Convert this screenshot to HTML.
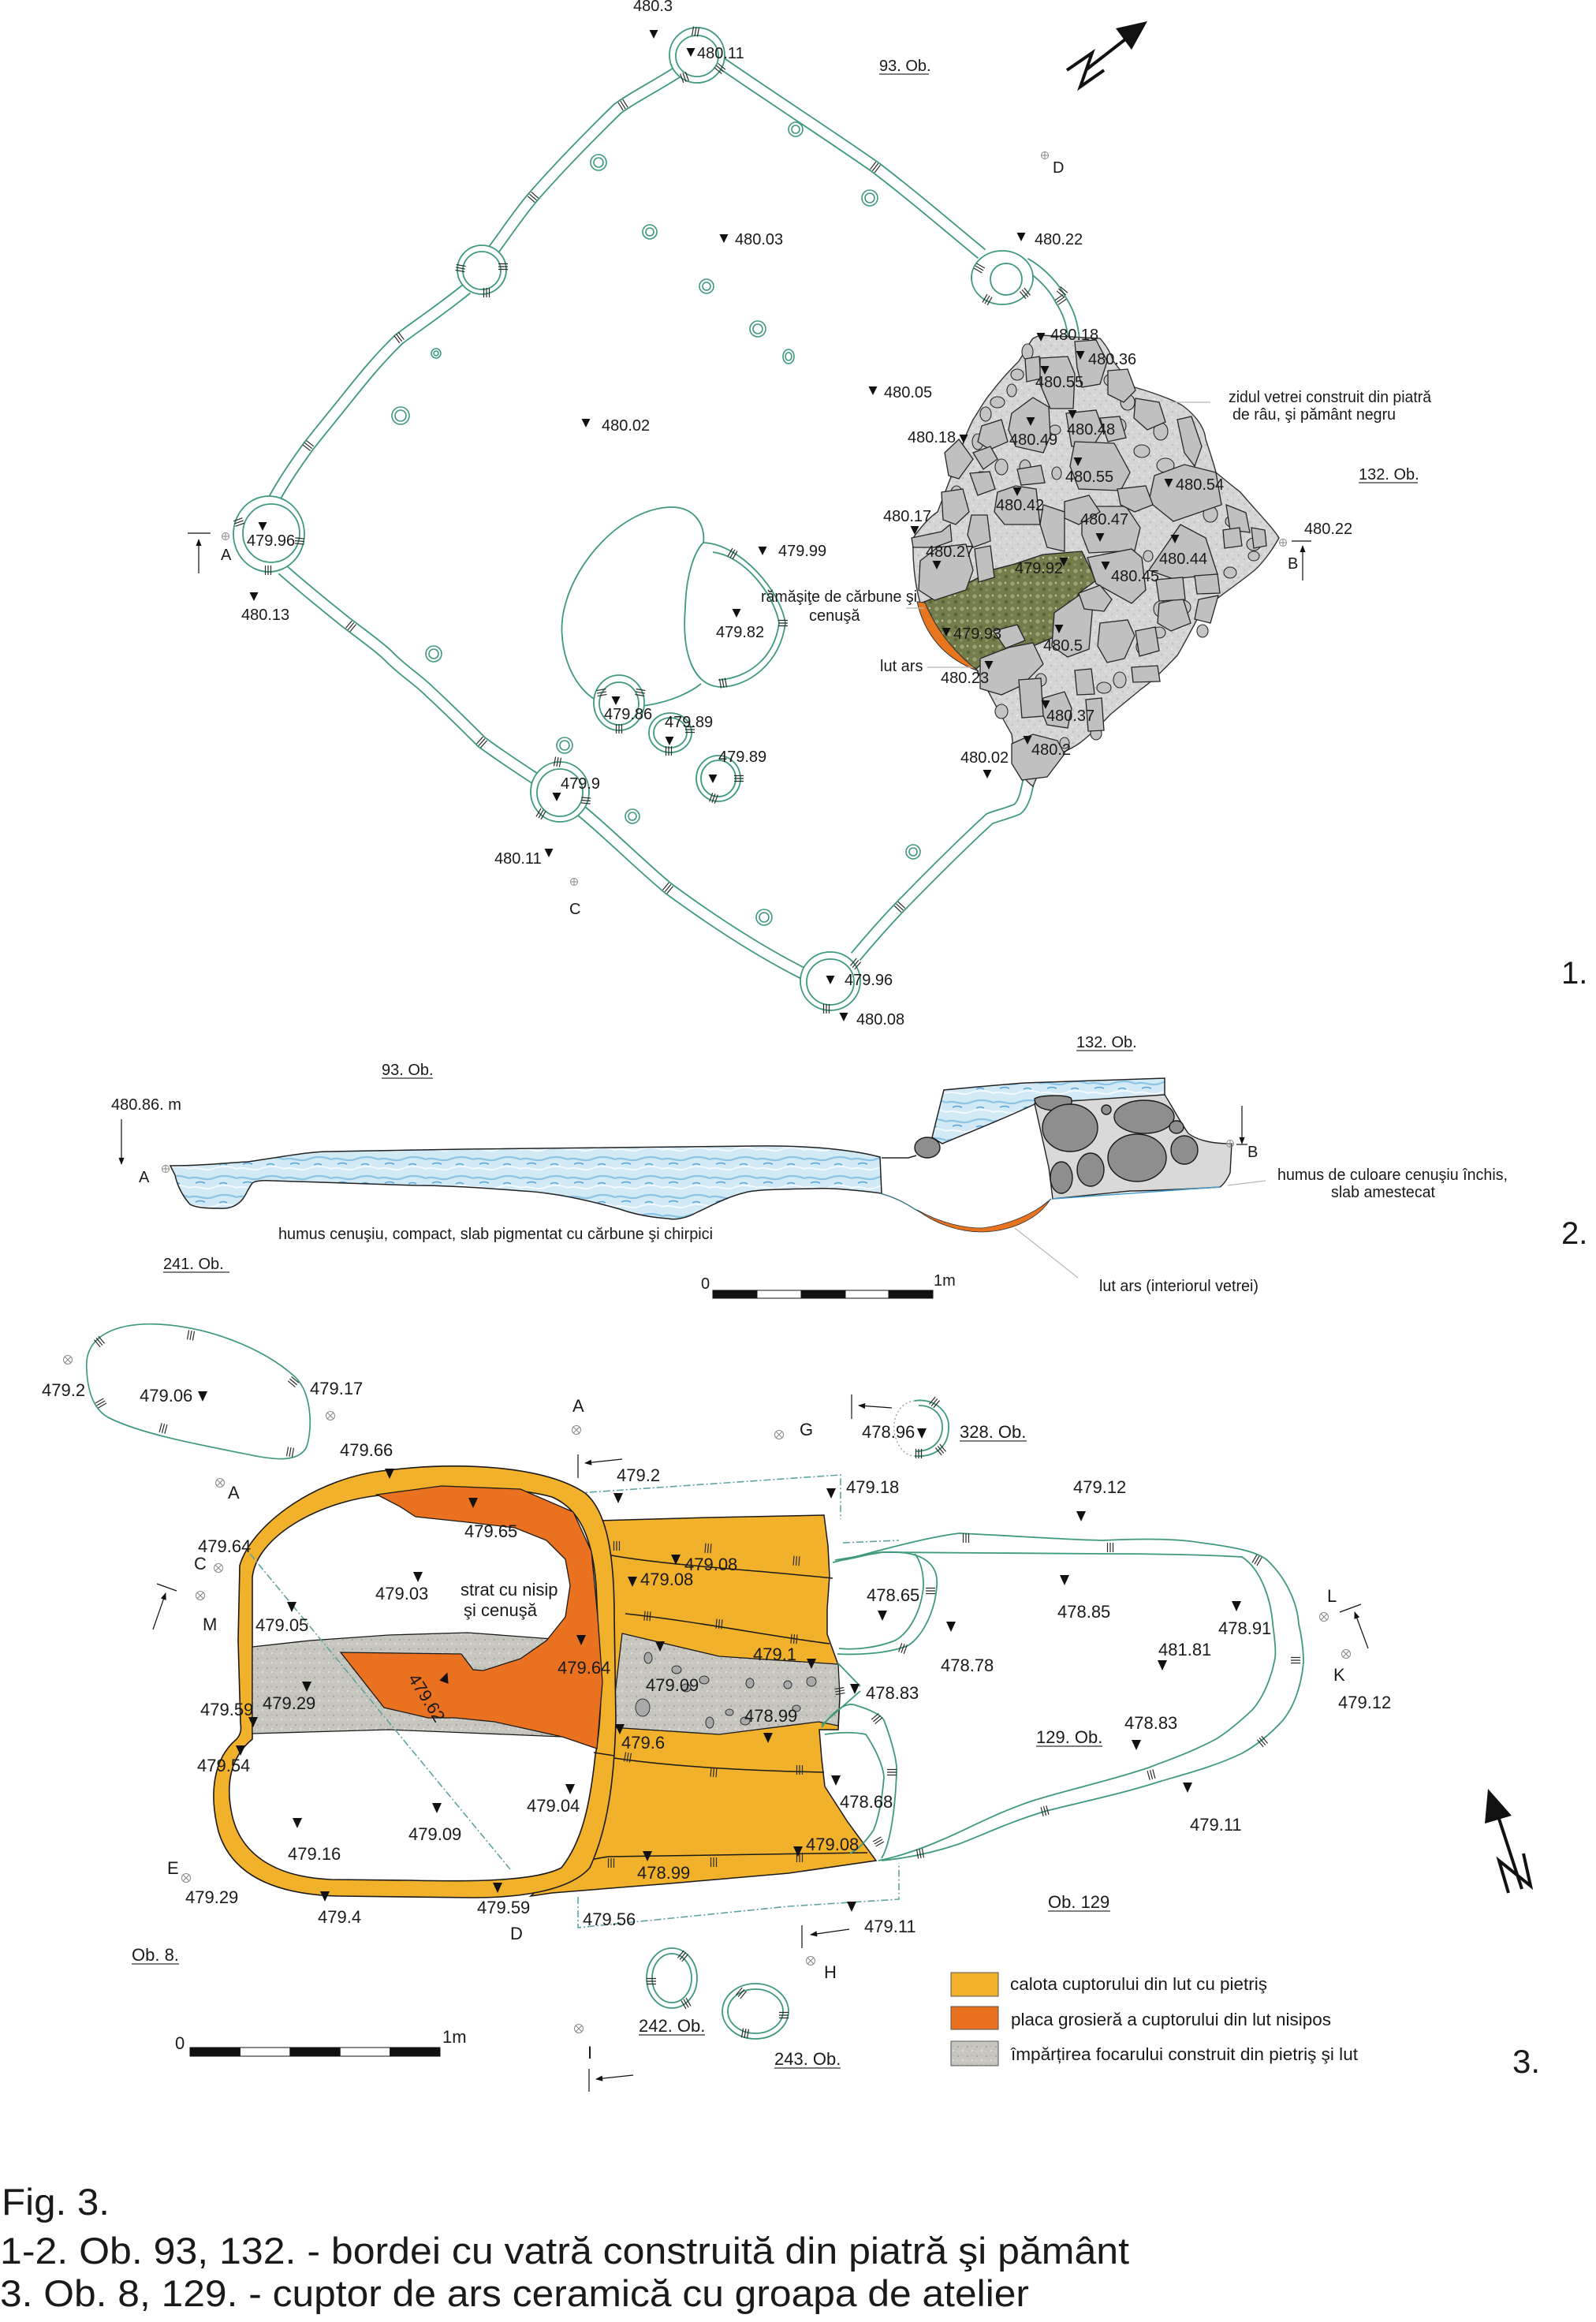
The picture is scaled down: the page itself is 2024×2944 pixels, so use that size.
<!DOCTYPE html>
<html><head><meta charset="utf-8"><title>Fig. 3</title>
<style>
html,body{margin:0;padding:0;background:#fff;}
svg{display:block;}
text{font-family:"Liberation Sans",Arial,sans-serif;fill:#1a1a1a;}
.s1{font-size:20px;}
.s3{font-size:22px;}
.g{fill:none;stroke:#3f9a7a;stroke-width:1.8;}
.ul{stroke:#333;stroke-width:1.2;}
.blk{fill:none;stroke:#1a1a1a;stroke-width:1.5;}
.dd{fill:none;stroke:#5fa3a3;stroke-width:1.6;stroke-dasharray:9 3 2 3;}
.ld{stroke:#b8b8b8;stroke-width:1.2;}
</style></head>
<body>
<svg width="2024" height="2944" viewBox="0 0 2024 2944" xmlns="http://www.w3.org/2000/svg">
<defs>
  <path id="tv" d="M-5.5,-5 L5.5,-5 L0,6 Z" fill="#111"/>
  <path id="tw" d="M-6,-6 L6,-6 L0,7 Z" fill="#111"/>
  <g id="op"><circle r="4.5" fill="none" stroke="#888" stroke-width="1"/><path d="M-4.5,0H4.5M0,-4.5V4.5" stroke="#888" stroke-width="1"/></g>
  <g id="ox"><circle r="5.5" fill="none" stroke="#888" stroke-width="1"/><path d="M-3.9,-3.9L3.9,3.9M-3.9,3.9L3.9,-3.9" stroke="#888" stroke-width="1"/></g>
  <g id="tk"><path d="M-3.5,-6V6M0,-6V6M3.5,-6V6" stroke="#2a2a2a" stroke-width="1.2" fill="none"/></g>
  <marker id="ah" viewBox="0 0 10 10" refX="9" refY="5" markerWidth="11" markerHeight="9" orient="auto" markerUnits="userSpaceOnUse"><path d="M0,1 L10,5 L0,9 Z" fill="#111"/></marker>
  <pattern id="grav" width="14" height="14" patternUnits="userSpaceOnUse">
    <rect width="14" height="14" fill="#d6d6d6"/>
    <circle cx="3" cy="4" r="1.4" fill="#c2c2c2"/><circle cx="10" cy="9" r="1.2" fill="#c4c4c4"/>
    <circle cx="8" cy="2" r="1" fill="#ececec"/><circle cx="2" cy="11" r="1.1" fill="#eaeaea"/>
  </pattern>
  <pattern id="olive" width="16" height="16" patternUnits="userSpaceOnUse">
    <rect width="16" height="16" fill="#737d4b"/>
    <circle cx="4" cy="4" r="2.6" fill="#9da272"/><circle cx="12" cy="11" r="2.2" fill="#5a6338"/>
    <circle cx="11" cy="3" r="1.2" fill="#c6c8a6"/><circle cx="3" cy="12" r="1.6" fill="#8d9463"/>
  </pattern>
  <pattern id="water" width="60" height="24" patternUnits="userSpaceOnUse">
    <rect width="60" height="24" fill="#d2e9f6"/>
    <path d="M0,6 C10,2 20,10 30,6 S50,2 60,6" stroke="#8cc5e7" stroke-width="2.2" fill="none"/>
    <path d="M0,18 C10,14 20,22 30,18 S50,14 60,18" stroke="#f4fafd" stroke-width="2" fill="none"/>
    <path d="M8,12 q6,-3 12,0 M38,13 q5,-3 10,0" stroke="#5aa7d8" stroke-width="1.6" fill="none"/>
  </pattern>
  <pattern id="ogrey" width="12" height="12" patternUnits="userSpaceOnUse">
    <rect width="12" height="12" fill="#c6c6be"/>
    <circle cx="3" cy="3" r="1.2" fill="#a9a9a1"/><circle cx="9" cy="8" r="1.2" fill="#e2dfd6"/>
    <circle cx="8" cy="2" r="0.9" fill="#b3b3ab"/><circle cx="2" cy="9" r="0.9" fill="#dedbd2"/>
  </pattern>
</defs>

<!-- ================= SECTION 1 ================= -->
<g fill="none" stroke-linecap="butt">
  <g stroke="#3f9a7a" stroke-width="16">
    <path d="M858,92 C830,110 800,125 783,138 C740,180 700,222 674,252 C655,275 640,298 625,318"/>
    <path d="M592,366 C560,392 530,412 506,430 C480,455 460,480 440,505 C420,530 405,548 391,566 C375,588 360,610 348,632"/>
    <path d="M358,722 C390,750 415,770 440,790 C460,805 478,818 491,830 C510,850 528,860 545,877 C570,900 590,920 611,941 C640,962 660,975 680,988"/>
    <path d="M737,1028 C770,1055 810,1095 847,1126 C900,1165 960,1205 1022,1236"/>
    <path d="M915,80 C980,125 1050,170 1110,212 C1160,250 1200,285 1245,322"/>
    <path d="M1300,334 C1320,345 1338,365 1345,380 C1355,395 1360,410 1362,432"/>
    <path d="M1306,980 C1302,1005 1298,1020 1290,1026 C1275,1032 1262,1035 1255,1038 C1220,1070 1180,1110 1141,1150 C1120,1172 1100,1195 1085,1213"/>
  </g>
  <g stroke="#ffffff" stroke-width="12.4">
    <path d="M858,92 C830,110 800,125 783,138 C740,180 700,222 674,252 C655,275 640,298 625,318"/>
    <path d="M592,366 C560,392 530,412 506,430 C480,455 460,480 440,505 C420,530 405,548 391,566 C375,588 360,610 348,632"/>
    <path d="M358,722 C390,750 415,770 440,790 C460,805 478,818 491,830 C510,850 528,860 545,877 C570,900 590,920 611,941 C640,962 660,975 680,988"/>
    <path d="M737,1028 C770,1055 810,1095 847,1126 C900,1165 960,1205 1022,1236"/>
    <path d="M915,80 C980,125 1050,170 1110,212 C1160,250 1200,285 1245,322"/>
    <path d="M1300,334 C1320,345 1338,365 1345,380 C1355,395 1360,410 1362,432"/>
    <path d="M1306,980 C1302,1005 1298,1020 1290,1026 C1275,1032 1262,1035 1255,1038 C1220,1070 1180,1110 1141,1150 C1120,1172 1100,1195 1085,1213"/>
  </g>
</g>

<path class="g" d="M889,867 C860,890 800,905 760,890 C720,870 705,810 716,770 C730,710 790,645 850,643 C880,642 895,665 892,688"/>
<path class="g" d="M892,688 C940,690 990,750 996,790 C990,840 950,870 915,871 C875,870 865,820 869,771 C870,730 880,700 892,688 Z" fill="#fff"/>
<path class="g" d="M904,700 C945,705 982,755 988,790 C982,835 948,860 911,862"/>

<g fill="#fff" stroke="#3f9a7a" stroke-width="1.8">
  <ellipse cx="884" cy="70" rx="35" ry="35"/><ellipse cx="884" cy="71" rx="27" ry="26" fill="none"/>
  <ellipse cx="611" cy="342" rx="31" ry="31"/><ellipse cx="611" cy="343" rx="24" ry="24" fill="none"/>
  <ellipse cx="341" cy="677" rx="45" ry="48"/><ellipse cx="344" cy="676" rx="36" ry="37" fill="none"/>
  <ellipse cx="710" cy="1004" rx="37" ry="38"/><ellipse cx="710" cy="1005" rx="29" ry="30" fill="none"/>
  <ellipse cx="1053" cy="1244" rx="38" ry="37"/><ellipse cx="1053" cy="1245" rx="30" ry="29" fill="none"/>
  <ellipse cx="1271" cy="352" rx="39" ry="34"/><ellipse cx="1276" cy="354" rx="20" ry="20" fill="none"/>
  <ellipse cx="785" cy="891" rx="32" ry="35"/><ellipse cx="785" cy="892" rx="25" ry="27" fill="none"/>
  <ellipse cx="850" cy="929" rx="27" ry="25"/><ellipse cx="850" cy="929" rx="21" ry="19" fill="none"/>
  <ellipse cx="911" cy="987" rx="28" ry="29"/><ellipse cx="911" cy="987" rx="22" ry="23" fill="none"/>
</g>
<g fill="none" stroke="#3f9a7a" stroke-width="1.6">
  <circle cx="1009" cy="164" r="9"/><circle cx="1009" cy="164" r="5"/>
  <circle cx="759" cy="206" r="10"/><circle cx="759" cy="206" r="6"/>
  <circle cx="1103" cy="251" r="10"/><circle cx="1103" cy="251" r="6"/>
  <circle cx="824" cy="294" r="9"/><circle cx="824" cy="294" r="5"/>
  <circle cx="896" cy="363" r="9"/><circle cx="896" cy="363" r="5"/>
  <circle cx="961" cy="417" r="10"/><circle cx="961" cy="417" r="6"/>
  <ellipse cx="1000" cy="452" rx="7" ry="9"/><ellipse cx="1000" cy="452" rx="4" ry="5"/>
  <circle cx="553" cy="448" r="6"/><circle cx="553" cy="448" r="3"/>
  <circle cx="508" cy="527" r="11"/><circle cx="508" cy="527" r="7"/>
  <circle cx="550" cy="829" r="10"/><circle cx="550" cy="829" r="6"/>
  <circle cx="716" cy="945" r="10"/><circle cx="716" cy="945" r="6"/>
  <circle cx="802" cy="1035" r="9"/><circle cx="802" cy="1035" r="5"/>
  <circle cx="1158" cy="1080" r="9"/><circle cx="1158" cy="1080" r="5"/>
  <circle cx="969" cy="1163" r="10"/><circle cx="969" cy="1163" r="6"/>
</g>
<g>
  <use href="#tk" transform="translate(790,133) rotate(148)"/>
  <use href="#tk" transform="translate(676,250) rotate(131)"/>
  <use href="#tk" transform="translate(506,428) rotate(143)"/>
  <use href="#tk" transform="translate(391,565) rotate(128)"/>
  <use href="#tk" transform="translate(445,794) rotate(40)"/>
  <use href="#tk" transform="translate(611,941) rotate(42)"/>
  <use href="#tk" transform="translate(847,1126) rotate(40)"/>
  <use href="#tk" transform="translate(1110,212) rotate(37)"/>
  <use href="#tk" transform="translate(1141,1150) rotate(133)"/>
  <use href="#tk" transform="translate(1345,380) rotate(55)"/>
  <use href="#tk" transform="translate(303,662) rotate(70)"/>
  <use href="#tk" transform="translate(380,686) rotate(95)"/>
  <use href="#tk" transform="translate(340,723) rotate(0)"/>
  <use href="#tk" transform="translate(882,40) rotate(10)"/>
  <use href="#tk" transform="translate(913,87) rotate(130)"/>
  <use href="#tk" transform="translate(868,98) rotate(-20)"/>
  <use href="#tk" transform="translate(1085,1222) rotate(40)"/>
  <use href="#tk" transform="translate(1048,1279) rotate(0)"/>
  <use href="#tk" transform="translate(707,966) rotate(10)"/>
  <use href="#tk" transform="translate(743,1015) rotate(95)"/>
  <use href="#tk" transform="translate(686,1032) rotate(30)"/>
  <use href="#tk" transform="translate(584,340) rotate(100)"/>
  <use href="#tk" transform="translate(638,338) rotate(90)"/>
  <use href="#tk" transform="translate(617,371) rotate(0)"/>
  <use href="#tk" transform="translate(1242,340) rotate(120)"/>
  <use href="#tk" transform="translate(1252,380) rotate(30)"/>
  <use href="#tk" transform="translate(1300,372) rotate(140)"/>
  <use href="#tk" transform="translate(1347,370) rotate(130)"/>
  <use href="#tk" transform="translate(763,878) rotate(80)"/>
  <use href="#tk" transform="translate(812,878) rotate(100)"/>
  <use href="#tk" transform="translate(785,924) rotate(0)"/>
  <use href="#tk" transform="translate(875,925) rotate(90)"/>
  <use href="#tk" transform="translate(848,952) rotate(0)"/>
  <use href="#tk" transform="translate(905,1012) rotate(20)"/>
  <use href="#tk" transform="translate(937,987) rotate(90)"/>
  <use href="#tk" transform="translate(929,702) rotate(30)"/>
  <use href="#tk" transform="translate(993,790) rotate(90)"/>
  <use href="#tk" transform="translate(917,866) rotate(-10)"/>
</g>

<!-- hearth (132. Ob.) -->
<path d="M1319,425 L1395,429 C1405,440 1410,452 1412,458 C1425,475 1435,488 1439,491 C1470,500 1495,510 1502,516 C1520,530 1528,545 1529,557 C1535,575 1540,590 1542,599 C1555,610 1568,620 1573,624 C1595,650 1615,670 1622,682 C1612,700 1600,715 1591,723 C1570,740 1555,750 1546,757 C1535,765 1525,775 1520,782 C1510,800 1500,820 1493,831 C1475,850 1460,865 1448,873 C1430,888 1415,900 1408,906 C1390,925 1375,938 1368,943 C1350,955 1330,960 1323,964 C1318,978 1313,990 1310,997 C1300,990 1290,975 1287,964 C1285,950 1284,940 1283,931 C1265,900 1250,870 1238,848 C1210,820 1180,790 1167,765 C1160,740 1157,710 1158,682 C1170,665 1180,655 1189,649 C1200,620 1212,590 1220,566 C1225,550 1230,540 1234,532 C1242,520 1250,505 1256,499 C1270,480 1285,465 1292,458 C1300,445 1305,435 1310,429 Z" fill="url(#grav)" stroke="#333" stroke-width="1.4"/>
<g fill="#c4c4c4" stroke="#2a2a2a" stroke-width="1.1">
  <ellipse cx="1303" cy="446" rx="7" ry="10"/><ellipse cx="1290" cy="475" rx="8" ry="7"/><ellipse cx="1283" cy="495" rx="6" ry="8"/>
  <ellipse cx="1265" cy="510" rx="9" ry="7"/><ellipse cx="1250" cy="525" rx="7" ry="9"/><ellipse cx="1262" cy="545" rx="10" ry="8"/>
  <ellipse cx="1240" cy="560" rx="7" ry="10"/><ellipse cx="1245" cy="605" rx="9" ry="7"/><ellipse cx="1270" cy="592" rx="8" ry="10"/>
  <ellipse cx="1300" cy="592" rx="7" ry="9"/><ellipse cx="1340" cy="600" rx="6" ry="8"/><ellipse cx="1338" cy="545" rx="7" ry="6"/>
  <ellipse cx="1410" cy="482" rx="10" ry="8"/><ellipse cx="1430" cy="510" rx="9" ry="10"/><ellipse cx="1452" cy="522" rx="11" ry="9"/>
  <ellipse cx="1472" cy="547" rx="9" ry="11"/><ellipse cx="1420" cy="540" rx="8" ry="9"/><ellipse cx="1448" cy="572" rx="10" ry="8"/>
  <ellipse cx="1478" cy="590" rx="11" ry="9"/><ellipse cx="1512" cy="620" rx="8" ry="7"/><ellipse cx="1535" cy="652" rx="9" ry="10"/>
  <ellipse cx="1562" cy="661" rx="8" ry="7"/><ellipse cx="1590" cy="690" rx="9" ry="8"/><ellipse cx="1560" cy="726" rx="8" ry="7"/>
  <ellipse cx="1500" cy="770" rx="10" ry="9"/><ellipse cx="1472" cy="772" rx="9" ry="10"/><ellipse cx="1470" cy="802" rx="8" ry="7"/>
  <ellipse cx="1448" cy="820" rx="7" ry="9"/><ellipse cx="1420" cy="862" rx="8" ry="10"/><ellipse cx="1400" cy="872" rx="9" ry="7"/>
  <ellipse cx="1390" cy="930" rx="7" ry="8"/><ellipse cx="1350" cy="942" rx="6" ry="7"/><ellipse cx="1270" cy="902" rx="8" ry="9"/>
  <ellipse cx="1213" cy="625" rx="7" ry="9"/><ellipse cx="1456" cy="705" rx="6" ry="7"/><ellipse cx="1320" cy="862" rx="7" ry="8"/>
  <ellipse cx="1512" cy="705" rx="7" ry="8"/><ellipse cx="1590" cy="705" rx="7" ry="6"/><ellipse cx="1525" cy="800" rx="7" ry="8"/>
</g>
<path d="M1167,765 L1200,752 L1234,736 L1260,722 L1287,715 L1323,703 L1372,699 L1390,736 L1368,752 L1355,780 L1341,806 L1310,819 L1280,825 L1247,840 L1238,848 L1210,830 L1189,802 Z" fill="url(#olive)" stroke="#222" stroke-width="1.3"/>
<path d="M1163,763 Q1178,828 1241,851 Q1194,815 1173,764 Z" fill="#e8761f" stroke="#333" stroke-width="1"/>
<g fill="#c0c0c0" stroke="#262626" stroke-width="1.3">
  <polygon points="1405,470 1430,468 1440,495 1425,510 1405,500"/>
  <polygon points="1440,505 1470,510 1478,535 1455,545 1438,530"/>
  <polygon points="1395,530 1420,528 1428,555 1405,560"/>
  <polygon points="1245,540 1270,532 1278,560 1255,570 1240,560"/>
  <polygon points="1505,615 1535,610 1545,640 1520,650 1505,638"/>
  <polygon points="1555,640 1580,650 1585,675 1560,672"/>
  <polygon points="1470,765 1500,758 1510,790 1485,800 1468,790"/>
  <polygon points="1440,800 1465,795 1470,825 1445,832"/>
  <polygon points="1230,600 1255,598 1262,620 1240,628"/>
  <polygon points="1290,595 1320,590 1325,612 1295,615"/>
  <polygon points="1520,760 1545,755 1535,790 1515,785"/>
  <polygon points="1300,455 1318,452 1320,480 1302,484"/>
  <polygon points="1480,690 1500,688 1498,712 1478,714"/>
  <polygon points="1260,800 1290,792 1300,812 1275,822"/>
  <polygon points="1363,433 1390,431 1404,458 1395,487 1372,491 1366,466"/>
  <polygon points="1319,454 1354,452 1363,474 1361,518 1332,518 1319,487"/>
  <polygon points="1283,524 1310,504 1330,516 1332,553 1323,574 1288,566 1279,545"/>
  <polygon points="1352,524 1390,520 1399,545 1386,566 1359,566"/>
  <polygon points="1363,560 1413,562 1433,599 1421,622 1368,620 1357,591"/>
  <polygon points="1464,603 1502,589 1542,599 1549,640 1488,661 1457,636"/>
  <polygon points="1265,624 1288,616 1314,620 1319,665 1274,665 1261,649"/>
  <polygon points="1372,642 1428,642 1446,669 1439,698 1381,701 1372,678"/>
  <polygon points="1379,707 1435,696 1448,707 1453,748 1435,765 1390,740"/>
  <polygon points="1457,723 1497,665 1529,682 1544,728 1488,734"/>
  <polygon points="1167,711 1189,694 1225,690 1234,723 1225,748 1185,761 1165,748"/>
  <polygon points="1156,682 1194,674 1205,665 1207,686 1185,694 1158,694"/>
  <polygon points="1337,777 1368,755 1386,765 1381,823 1354,833 1334,819"/>
  <polygon points="1243,835 1279,821 1310,815 1323,842 1296,869 1270,881 1243,873"/>
  <polygon points="1323,885 1350,877 1359,898 1354,923 1328,919 1321,902"/>
  <polygon points="1283,943 1310,931 1341,939 1350,956 1328,985 1296,989 1283,968"/>
  <polygon points="1395,790 1430,786 1439,806 1426,835 1404,840 1392,819"/>
  <polygon points="1194,624 1221,620 1229,649 1212,665 1196,659"/>
  <polygon points="1232,653 1252,653 1256,686 1234,694 1227,678"/>
  <polygon points="1236,696 1256,692 1261,732 1241,738"/>
  <polygon points="1350,636 1381,628 1395,649 1368,665 1350,657"/>
  <polygon points="1417,620 1453,616 1462,640 1439,649 1421,640"/>
  <polygon points="1493,532 1511,528 1524,566 1515,591 1502,574"/>
  <polygon points="1323,640 1350,649 1350,699 1328,694 1319,665"/>
  <polygon points="1198,574 1216,557 1234,582 1216,607 1203,603"/>
  <polygon points="1234,574 1256,566 1265,582 1247,595"/>
  <polygon points="1587,669 1604,672 1606,692 1590,695"/>
  <polygon points="1551,672 1572,669 1575,692 1553,695"/>
  <polygon points="1466,735 1500,732 1503,760 1470,762"/>
  <polygon points="1515,730 1544,728 1547,752 1518,753"/>
  <polygon points="1363,850 1384,848 1388,880 1366,881"/>
  <polygon points="1435,846 1468,844 1471,864 1437,865"/>
  <polygon points="1377,887 1397,885 1400,926 1380,927"/>
  <polygon points="1292,862 1320,860 1323,908 1296,910"/>
  <polygon points="1368,752 1395,742 1410,760 1400,775 1375,772"/>
</g>
<line x1="1176" y1="846" x2="1234" y2="846" class="ld"/>
<line x1="1149" y1="771" x2="1172" y2="771" class="ld"/>
<line x1="1484" y1="510" x2="1535" y2="510" class="ld"/>

<g fill="#111" stroke="#111">
  <polygon points="1455,27 1415,36 1435,63" stroke="none"/>
  <line x1="1432" y1="46" x2="1378" y2="88" stroke-width="4"/>
  <polyline points="1353,89 1385,67 1370,110 1400,89" fill="none" stroke-width="4"/>
</g>

<line x1="238" y1="676" x2="267" y2="676" stroke="#111" stroke-width="1.2"/>
<line x1="252" y1="727" x2="252" y2="684" stroke="#111" stroke-width="1.2" marker-end="url(#ah)"/>
<line x1="1638" y1="686" x2="1663" y2="686" stroke="#111" stroke-width="1.2"/>
<line x1="1652" y1="736" x2="1652" y2="692" stroke="#111" stroke-width="1.2" marker-end="url(#ah)"/>
<use href="#op" x="286" y="680"/><use href="#op" x="1627" y="688"/><use href="#op" x="1325" y="197"/><use href="#op" x="728" y="1118"/>

<g>
<use href="#tv" x="829" y="43"/><use href="#tv" x="876" y="66"/><use href="#tv" x="1295" y="300"/>
<use href="#tv" x="918" y="302"/><use href="#tv" x="1107" y="495"/><use href="#tv" x="743" y="536"/>
<use href="#tv" x="1222" y="556"/><use href="#tv" x="1160" y="672"/><use href="#tv" x="333" y="667"/>
<use href="#tv" x="322" y="756"/><use href="#tv" x="967" y="698"/><use href="#tv" x="934" y="777"/>
<use href="#tv" x="1254" y="843"/><use href="#tv" x="781" y="888"/><use href="#tv" x="849" y="939"/>
<use href="#tv" x="904" y="987"/><use href="#tv" x="706" y="1010"/><use href="#tv" x="696" y="1081"/>
<use href="#tv" x="1053" y="1242"/><use href="#tv" x="1070" y="1289"/><use href="#tv" x="1252" y="981"/>
<use href="#tv" x="1320" y="427"/><use href="#tv" x="1370" y="450"/><use href="#tv" x="1325" y="469"/>
<use href="#tv" x="1307" y="534"/><use href="#tv" x="1360" y="525"/><use href="#tv" x="1367" y="585"/>
<use href="#tv" x="1482" y="612"/><use href="#tv" x="1290" y="623"/><use href="#tv" x="1395" y="681"/>
<use href="#tv" x="1490" y="683"/><use href="#tv" x="1402" y="717"/><use href="#tv" x="1188" y="716"/>
<use href="#tv" x="1349" y="712"/><use href="#tv" x="1200" y="801"/><use href="#tv" x="1343" y="797"/>
<use href="#tv" x="1326" y="893"/><use href="#tv" x="1303" y="938"/>
</g>
<g class="s1">
<text x="803" y="14">480.3</text>
<text x="884" y="74">480.11</text>
<text x="1115" y="90">93. Ob.</text><line class="ul" x1="1115" y1="94" x2="1178" y2="94"/>
<text x="1335" y="219">D</text>
<text x="1312" y="310">480.22</text>
<text x="932" y="310">480.03</text>
<text x="1121" y="504">480.05</text>
<text x="763" y="546">480.02</text>
<text x="1151" y="561">480.18</text>
<text x="1120" y="661">480.17</text>
<text x="313" y="692">479.96</text>
<text x="280" y="710">A</text>
<text x="306" y="786">480.13</text>
<text x="987" y="705">479.99</text>
<text x="908" y="808">479.82</text>
<text x="965" y="763" textLength="198" lengthAdjust="spacingAndGlyphs">rămăşiţe de cărbune şi</text>
<text x="1026" y="787">cenuşă</text>
<text x="1116" y="851">lut ars</text>
<text x="1193" y="866">480.23</text>
<text x="766" y="912">479.86</text>
<text x="843" y="922">479.89</text>
<text x="911" y="966">479.89</text>
<text x="711" y="1000">479.9</text>
<text x="627" y="1095">480.11</text>
<text x="722" y="1159">C</text>
<text x="1071" y="1249">479.96</text>
<text x="1086" y="1299">480.08</text>
<text x="1218" y="967">480.02</text>
<text x="1332" y="431">480.18</text>
<text x="1380" y="462">480.36</text>
<text x="1313" y="491">480.55</text>
<text x="1280" y="564">480.49</text>
<text x="1353" y="551">480.48</text>
<text x="1351" y="611">480.55</text>
<text x="1491" y="621">480.54</text>
<text x="1263" y="647">480.42</text>
<text x="1370" y="665">480.47</text>
<text x="1470" y="715">480.44</text>
<text x="1409" y="737">480.45</text>
<text x="1174" y="706">480.27</text>
<text x="1287" y="727">479.92</text>
<text x="1209" y="810">479.93</text>
<text x="1323" y="825">480.5</text>
<text x="1327" y="914">480.37</text>
<text x="1308" y="957">480.2</text>
<text x="1654" y="677">480.22</text>
<text x="1633" y="721">B</text>
<text x="1558" y="510" textLength="257" lengthAdjust="spacingAndGlyphs">zidul vetrei construit din piatră</text>
<text x="1563" y="532" textLength="207" lengthAdjust="spacingAndGlyphs">de râu, şi pământ negru</text>
<text x="1723" y="608">132. Ob.</text><line class="ul" x1="1723" y1="612" x2="1798" y2="612"/>
</g>
<text x="1980" y="1247" style="font-size:40px">1.</text>

<!-- ================= SECTION 2 ================= -->
<path d="M216,1478 C260,1478 290,1474 314,1473 C350,1468 390,1460 418,1460 L590,1457 L957,1453 C1040,1452 1090,1460 1116,1467 L1118,1513 C1080,1508 1050,1506 1031,1507 C990,1508 960,1508 945,1512 C920,1518 900,1530 884,1537 C870,1545 855,1547 847,1545 C820,1543 800,1538 786,1533 C740,1520 700,1512 663,1510 C600,1505 560,1503 529,1503 L345,1497 C330,1496 322,1498 320,1500 C314,1508 312,1515 308,1520 C300,1530 290,1533 278,1532 C260,1532 248,1531 241,1527 C230,1515 224,1500 222,1490 Z" fill="url(#water)" stroke="#222" stroke-width="1.5"/>
<polyline points="1118,1468 1152,1468 1162,1465" fill="none" stroke="#222" stroke-width="1.5"/>
<path d="M1182,1442 L1197,1382 C1240,1378 1270,1375 1300,1373 L1477,1367 L1477,1390 C1420,1395 1360,1398 1312,1400 C1270,1420 1230,1435 1195,1450 Z" fill="url(#water)" stroke="#222" stroke-width="1.5"/>
<path d="M1312,1399 L1477,1388 C1485,1400 1495,1420 1507,1437 C1520,1447 1540,1450 1562,1450 L1560,1487 C1555,1498 1550,1503 1547,1505 C1500,1508 1450,1510 1433,1510 L1335,1520 L1330,1480 Z" fill="#d9d9d9" stroke="#222" stroke-width="1.4"/>
<line x1="1335" y1="1520" x2="1547" y2="1505" stroke="#4a9bd0" stroke-width="1.5"/>
<g fill="#8e8e8e" stroke="#1a1a1a" stroke-width="1.4">
  <ellipse cx="1176" cy="1455" rx="16" ry="13"/>
  <path d="M1312,1393 C1320,1388 1350,1388 1358,1392 C1362,1400 1355,1407 1340,1408 C1325,1408 1312,1404 1312,1393 Z"/>
  <ellipse cx="1357" cy="1430" rx="35" ry="30"/>
  <ellipse cx="1451" cy="1416" rx="38" ry="21"/>
  <circle cx="1403" cy="1407" r="6"/>
  <ellipse cx="1492" cy="1429" rx="9" ry="8"/>
  <ellipse cx="1442" cy="1468" rx="37" ry="30"/>
  <ellipse cx="1502" cy="1458" rx="17" ry="18"/>
  <ellipse cx="1383" cy="1483" rx="17" ry="21"/>
  <ellipse cx="1346" cy="1493" rx="14" ry="20"/>
</g>
<path d="M1116,1513 C1135,1518 1148,1525 1160,1533 C1190,1550 1220,1558 1245,1559 C1280,1556 1310,1540 1333,1520" fill="none" stroke="#2f6f80" stroke-width="1.3"/>
<path d="M1163,1534 C1195,1552 1225,1557 1245,1557 C1280,1553 1312,1538 1331,1522 C1320,1540 1290,1561 1245,1562 C1215,1562 1185,1551 1163,1534 Z" fill="#e8731e" stroke="#333" stroke-width="0.8"/>
<line x1="1287" y1="1557" x2="1367" y2="1620" class="ld"/>
<line x1="1557" y1="1503" x2="1605" y2="1497" class="ld"/>
<use href="#op" x="210" y="1482"/><use href="#op" x="1560" y="1450"/>
<line x1="154" y1="1419" x2="154" y2="1476" stroke="#111" stroke-width="1.2" marker-end="url(#ah)"/>
<line x1="1575" y1="1402" x2="1575" y2="1450" stroke="#111" stroke-width="1.2" marker-end="url(#ah)"/>
<line x1="1568" y1="1451" x2="1582" y2="1451" stroke="#111" stroke-width="1.2"/>
<g stroke="#111" stroke-width="1">
  <rect x="904" y="1636" width="279" height="10" fill="#fff"/>
  <rect x="904" y="1636" width="56" height="10" fill="#111"/>
  <rect x="1016" y="1636" width="56" height="10" fill="#111"/>
  <rect x="1127" y="1636" width="56" height="10" fill="#111"/>
</g>
<g class="s1">
<text x="1365" y="1328">132. Ob.</text><line class="ul" x1="1365" y1="1332" x2="1437" y2="1332"/>
<text x="484" y="1363">93. Ob.</text><line class="ul" x1="484" y1="1367" x2="549" y2="1367"/>
<text x="141" y="1407">480.86. m</text>
<text x="176" y="1499">A</text>
<text x="353" y="1571" textLength="551" lengthAdjust="spacingAndGlyphs">humus cenuşiu, compact, slab pigmentat cu cărbune şi chirpici</text>
<text x="207" y="1609">241. Ob.</text><line class="ul" x1="207" y1="1613" x2="291" y2="1613"/>
<text x="1620" y="1496" textLength="292" lengthAdjust="spacingAndGlyphs">humus de culoare cenuşiu închis,</text>
<text x="1688" y="1518" textLength="132" lengthAdjust="spacingAndGlyphs">slab amestecat</text>
<text x="1394" y="1637" textLength="202" lengthAdjust="spacingAndGlyphs">lut ars (interiorul vetrei)</text>
<text x="1582" y="1467">B</text>
<text x="889" y="1634">0</text>
<text x="1184" y="1630">1m</text>
</g>
<text x="1980" y="1577" style="font-size:40px">2.</text>

<!-- ================= SECTION 3 ================= -->
<path d="M113,1735 C110,1695 150,1680 200,1682 C260,1685 330,1710 372,1748 C395,1770 392,1820 385,1835 C375,1850 350,1848 320,1842 C250,1828 180,1815 140,1795 C120,1785 114,1760 113,1735 Z" fill="none" stroke="#3f9a7a" stroke-width="8"/>
<path d="M113,1735 C110,1695 150,1680 200,1682 C260,1685 330,1710 372,1748 C395,1770 392,1820 385,1835 C375,1850 350,1848 320,1842 C250,1828 180,1815 140,1795 C120,1785 114,1760 113,1735 Z" fill="#fff" stroke="#fff" stroke-width="4.6"/>

<polyline class="dd" points="733,1912 733,1893 1066,1870 1066,1926"/>
<polyline class="dd" points="1069,1956 1140,1953"/>
<polyline class="dd" points="733,2405 733,2444 1000,2417 1140,2408 1140,2362"/>

<path d="M756,1928 L900,1924 L1045,1921 L1050,1960 L1052,1998 L1049,2040 L1049,2072 L1062,2108 L1065,2150 L1063,2193 L1039,2193 L1042,2230 L1046,2265 L1075,2310 L1111,2359 L1000,2375 L850,2388 L700,2400 L673,2404 L700,2380 L740,2372 L760,2300 L770,2200 L772,2050 L770,1960 Z" fill="#f1b12b" stroke="#1a1a1a" stroke-width="1.5"/>
<path d="M789,2071 L912,2100 L1063,2110 L1065,2150 L1063,2188 L1038,2183 L912,2199 L775,2190 Z" fill="url(#ogrey)" stroke="#1a1a1a" stroke-width="1.3"/>
<g fill="#a9a9a9" stroke="#333" stroke-width="1">
  <ellipse cx="822" cy="2102" rx="5" ry="7"/><ellipse cx="815" cy="2165" rx="9" ry="11"/><ellipse cx="858" cy="2117" rx="6" ry="5"/>
  <ellipse cx="870" cy="2140" rx="6" ry="5"/><ellipse cx="893" cy="2130" rx="6" ry="5"/><ellipse cx="900" cy="2184" rx="5" ry="7"/>
  <ellipse cx="951" cy="2134" rx="5" ry="6"/><ellipse cx="925" cy="2171" rx="5" ry="4"/><ellipse cx="999" cy="2136" rx="5" ry="5"/>
  <ellipse cx="1029" cy="2132" rx="6" ry="6"/><ellipse cx="1010" cy="2166" rx="5" ry="4"/><ellipse cx="945" cy="2182" rx="6" ry="5"/>
</g>
<g class="blk">
  <path d="M775,1972 C850,1985 950,1990 1056,2001"/>
  <path d="M793,2046 C880,2055 980,2075 1052,2084"/>
  <path d="M772,2228 C850,2240 950,2245 1045,2247"/>
  <path d="M660,2398 C700,2370 740,2358 772,2354 L1100,2349"/>
</g>

<path d="M493,1864 C580,1853 690,1858 742,1893 C772,1918 779,1980 779,2050 L781,2180 C779,2260 770,2320 748,2368 C720,2400 650,2406 600,2406 L430,2404 C340,2402 292,2372 277,2322 C265,2275 270,2230 300,2205 C306,2198 306,2192 305,2185 L302,2080 L304,1985 C318,1935 400,1872 493,1864 Z" fill="#f1b12b" stroke="#1a1a1a" stroke-width="1.6"/>
<path d="M480,1896 C540,1884 640,1882 700,1898 C740,1915 752,1960 756,2010 L762,2140 C762,2180 758,2210 755,2225 C748,2290 738,2335 712,2368 C680,2385 600,2386 520,2384 L420,2383 C350,2380 305,2352 294,2300 C286,2262 292,2228 320,2205 L320,2000 C325,1950 400,1905 480,1896 Z" fill="#fff" stroke="#1a1a1a" stroke-width="1.6"/>
<path d="M320,2088 L393,2080 L493,2073 L593,2070 L687,2077 L713,2079 L713,2202 L593,2197 L493,2193 L320,2198 Z" fill="url(#ogrey)" stroke="#1a1a1a" stroke-width="1.3"/>
<path d="M478,1895 L560,1884 L660,1888 L727,1917 L750,1967 L758,2050 L764,2133 L757,2217 L713,2202 L627,2183 L577,2178 L543,2178 L487,2165 L432,2095 L585,2097 L600,2117 L613,2118 L660,2103 L693,2080 L717,2050 L723,2010 L717,1977 L693,1953 L653,1937 L593,1930 L527,1923 L507,1910 Z" fill="#e9711f" stroke="#1a1a1a" stroke-width="1.3"/>
<line x1="753" y1="2222" x2="779" y2="2226" stroke="#1a1a1a" stroke-width="1.4"/>
<line x1="317" y1="1970" x2="647" y2="2370" class="dd"/>

<path class="g" d="M1056,1981 C1120,1965 1170,1950 1216,1944 C1300,1948 1350,1952 1398,1953 C1460,1950 1500,1952 1523,1956 C1570,1962 1595,1968 1607,1978 C1630,2000 1645,2030 1647,2059 C1652,2080 1653,2095 1653,2108 C1650,2140 1640,2165 1627,2181 C1610,2200 1590,2215 1575,2223 C1540,2240 1500,2250 1470,2259 C1420,2275 1370,2285 1327,2296 C1280,2310 1250,2325 1216,2338 C1180,2350 1150,2356 1118,2359"/>
<path class="g" d="M1069,1978 C1100,1972 1110,1968 1118,1968 L1398,1970 C1480,1970 1540,1972 1575,1974 C1600,1990 1612,2030 1614,2059 C1617,2080 1618,2095 1617,2102 C1612,2130 1600,2155 1588,2168 C1570,2185 1555,2197 1542,2205 C1510,2222 1480,2232 1457,2241 C1400,2260 1350,2270 1307,2284 C1260,2300 1225,2320 1196,2332 C1160,2348 1130,2356 1114,2359"/>
<path class="g" d="M1059,1978 L1120,1968 C1180,1965 1190,1990 1188,2011 C1185,2050 1165,2080 1150,2087 C1120,2098 1080,2098 1062,2097"/>
<path class="g" d="M1160,1970 C1172,1985 1172,2010 1170,2020 C1165,2050 1150,2072 1135,2080 C1110,2090 1080,2092 1064,2090"/>
<path class="g" d="M1042,2190 C1060,2165 1075,2158 1085,2162 C1105,2168 1118,2175 1121,2181 C1132,2210 1138,2235 1137,2247 C1135,2300 1128,2340 1118,2356"/>
<path class="g" d="M1046,2199 C1065,2196 1085,2196 1098,2199 C1112,2220 1120,2240 1121,2253 C1118,2290 1112,2310 1108,2320 C1098,2335 1088,2345 1078,2350"/>
<path class="g" d="M1062,2108 L1091,2138 M1042,2187 L1091,2144"/>
<path class="g" d="M1160,1776 C1185,1772 1205,1790 1203,1812 C1202,1835 1185,1848 1160,1846"/>
<path class="g" d="M1165,1782 C1185,1782 1196,1795 1195,1812 C1193,1830 1180,1840 1162,1840"/>
<path d="M1160,1776 C1140,1778 1130,1800 1135,1820 C1140,1838 1150,1846 1160,1846" fill="none" stroke="#999" stroke-width="1.3" stroke-dasharray="2 3"/>
<g fill="none" stroke="#3f9a7a" stroke-width="1.8">
  <ellipse cx="852" cy="2508" rx="32" ry="38"/><ellipse cx="852" cy="2508" rx="25" ry="31"/>
  <ellipse cx="958" cy="2550" rx="42" ry="35"/><ellipse cx="958" cy="2550" rx="35" ry="28"/>
</g>
<g>
  <use href="#tk" transform="translate(126,1701) rotate(140)"/>
  <use href="#tk" transform="translate(242,1693) rotate(10)"/>
  <use href="#tk" transform="translate(372,1752) rotate(130)"/>
  <use href="#tk" transform="translate(368,1841) rotate(10)"/>
  <use href="#tk" transform="translate(207,1811) rotate(15)"/>
  <use href="#tk" transform="translate(128,1779) rotate(60)"/>
  <use href="#tk" transform="translate(1225,1950) rotate(0)"/>
  <use href="#tk" transform="translate(1408,1962) rotate(0)"/>
  <use href="#tk" transform="translate(1594,1978) rotate(30)"/>
  <use href="#tk" transform="translate(1643,2105) rotate(90)"/>
  <use href="#tk" transform="translate(1601,2208) rotate(140)"/>
  <use href="#tk" transform="translate(1460,2250) rotate(-15)"/>
  <use href="#tk" transform="translate(1325,2296) rotate(-15)"/>
  <use href="#tk" transform="translate(1167,2350) rotate(-10)"/>
  <use href="#tk" transform="translate(1114,2335) rotate(60)"/>
  <use href="#tk" transform="translate(1131,2247) rotate(90)"/>
  <use href="#tk" transform="translate(1112,2179) rotate(50)"/>
  <use href="#tk" transform="translate(1065,2144) rotate(80)"/>
  <use href="#tk" transform="translate(1145,2090) rotate(20)"/>
  <use href="#tk" transform="translate(1180,2017) rotate(90)"/>
  <use href="#tk" transform="translate(782,1960) rotate(0)"/>
  <use href="#tk" transform="translate(898,1963) rotate(5)"/>
  <use href="#tk" transform="translate(1010,1979) rotate(5)"/>
  <use href="#tk" transform="translate(821,2049) rotate(5)"/>
  <use href="#tk" transform="translate(912,2059) rotate(5)"/>
  <use href="#tk" transform="translate(1007,2078) rotate(5)"/>
  <use href="#tk" transform="translate(796,2228) rotate(10)"/>
  <use href="#tk" transform="translate(905,2247) rotate(5)"/>
  <use href="#tk" transform="translate(1014,2244) rotate(0)"/>
  <use href="#tk" transform="translate(775,2362) rotate(0)"/>
  <use href="#tk" transform="translate(905,2361) rotate(0)"/>
  <use href="#tk" transform="translate(1014,2355) rotate(0)"/>
  <use href="#tk" transform="translate(866,2480) rotate(40)"/>
  <use href="#tk" transform="translate(826,2512) rotate(90)"/>
  <use href="#tk" transform="translate(870,2540) rotate(-30)"/>
  <use href="#tk" transform="translate(940,2527) rotate(40)"/>
  <use href="#tk" transform="translate(994,2555) rotate(90)"/>
  <use href="#tk" transform="translate(945,2578) rotate(10)"/>
  <use href="#tk" transform="translate(1185,1778) rotate(40)"/>
  <use href="#tk" transform="translate(1193,1838) rotate(140)"/>
  <use href="#tk" transform="translate(1165,1843) rotate(0)"/>
</g>

<g>
<use href="#ox" x="86" y="1724"/><use href="#ox" x="419" y="1795"/><use href="#ox" x="279" y="1880"/>
<use href="#ox" x="277" y="1988"/><use href="#ox" x="254" y="2023"/><use href="#ox" x="731" y="1813"/>
<use href="#ox" x="988" y="1819"/><use href="#ox" x="236" y="2381"/><use href="#ox" x="1028" y="2486"/>
<use href="#ox" x="734" y="2572"/><use href="#ox" x="1679" y="2050"/><use href="#ox" x="1707" y="2097"/>
</g>
<g stroke="#111" stroke-width="1.2" fill="none">
  <line x1="199" y1="2008" x2="224" y2="2017"/>
  <line x1="194" y1="2066" x2="210" y2="2020" marker-end="url(#ah)"/>
  <line x1="733" y1="1844" x2="733" y2="1874"/>
  <line x1="789" y1="1850" x2="742" y2="1855" marker-end="url(#ah)"/>
  <line x1="1080" y1="1768" x2="1080" y2="1799"/>
  <line x1="1131" y1="1785" x2="1089" y2="1782" marker-end="url(#ah)"/>
  <line x1="1017" y1="2441" x2="1017" y2="2470"/>
  <line x1="1077" y1="2446" x2="1028" y2="2453" marker-end="url(#ah)"/>
  <line x1="747" y1="2623" x2="747" y2="2652"/>
  <line x1="803" y1="2631" x2="756" y2="2636" marker-end="url(#ah)"/>
  <line x1="1699" y1="2044" x2="1726" y2="2034"/>
  <line x1="1735" y1="2090" x2="1718" y2="2044" marker-end="url(#ah)"/>
</g>
<g fill="#111" stroke="#111">
  <polygon points="1887,2268 1883,2312 1917,2302" stroke="none"/>
  <line x1="1900" y1="2303" x2="1930" y2="2395" stroke-width="4"/>
  <polyline points="1913,2400 1901,2359 1941,2391 1932,2350" fill="none" stroke-width="4"/>
</g>
<g stroke="#111" stroke-width="1">
  <rect x="241" y="2596" width="317" height="11" fill="#fff"/>
  <rect x="241" y="2596" width="63.4" height="11" fill="#111"/>
  <rect x="367.8" y="2596" width="63.4" height="11" fill="#111"/>
  <rect x="494.6" y="2596" width="63.4" height="11" fill="#111"/>
</g>
<rect x="1206" y="2501" width="60" height="30" fill="#f1b12b" stroke="#555" stroke-width="1"/>
<rect x="1206" y="2544" width="60" height="29" fill="#e9711f" stroke="#555" stroke-width="1"/>
<rect x="1206" y="2588" width="60" height="31" fill="url(#ogrey)" stroke="#555" stroke-width="1"/>

<g>
<use href="#tw" x="257" y="1770"/><use href="#tw" x="784" y="1899"/><use href="#tw" x="1169" y="1817"/>
<use href="#tw" x="1054" y="1893"/><use href="#tw" x="1371" y="1922"/><use href="#tw" x="600" y="1905"/>
<use href="#tw" x="530" y="1999"/><use href="#tw" x="370" y="2037"/><use href="#tw" x="737" y="2079"/>
<use href="#tw" x="389" y="2138"/><use href="#tw" x="321" y="2183"/><use href="#tw" x="305" y="2219"/>
<use href="#tw" x="377" y="2311"/><use href="#tw" x="554" y="2292"/><use href="#tw" x="723" y="2268"/>
<use href="#tw" x="412" y="2404"/><use href="#tw" x="631" y="2393"/><use href="#tw" x="494" y="1868"/>
<use href="#tw" x="857" y="1977"/><use href="#tw" x="802" y="2005"/><use href="#tw" x="1029" y="2109"/>
<use href="#tw" x="837" y="2087"/><use href="#tw" x="974" y="2203"/><use href="#tw" x="786" y="2192"/>
<use href="#tw" x="821" y="2353"/><use href="#tw" x="1012" y="2347"/><use href="#tw" x="1119" y="2048"/>
<use href="#tw" x="1206" y="2062"/><use href="#tw" x="1350" y="2003"/><use href="#tw" x="1568" y="2036"/>
<use href="#tw" x="1474" y="2111"/><use href="#tw" x="1084" y="2141"/><use href="#tw" x="1441" y="2212"/>
<use href="#tw" x="1060" y="2257"/><use href="#tw" x="1506" y="2266"/><use href="#tw" x="1080" y="2417"/>
<use href="#tw" transform="translate(565,2127) rotate(200)"/>
</g>
<g class="s3">
<text x="53" y="1770">479.2</text>
<text x="177" y="1777">479.06</text>
<text x="393" y="1768">479.17</text>
<text x="431" y="1846">479.66</text>
<text x="289" y="1900">A</text>
<text x="251" y="1968">479.64</text>
<text x="246" y="1990">C</text>
<text x="257" y="2067">M</text>
<text x="726" y="1790">A</text>
<text x="782" y="1878">479.2</text>
<text x="1014" y="1820">G</text>
<text x="1093" y="1823">478.96</text>
<text x="1217" y="1823">328. Ob.</text><line class="ul" x1="1217" y1="1827" x2="1302" y2="1827"/>
<text x="1073" y="1893">479.18</text>
<text x="1361" y="1893">479.12</text>
<text x="589" y="1949">479.65</text>
<text x="476" y="2028">479.03</text>
<text x="584" y="2023">strat cu nisip</text>
<text x="588" y="2049">şi cenuşă</text>
<text x="324" y="2068">479.05</text>
<text x="707" y="2122">479.64</text>
<text transform="translate(517,2128) rotate(58)">479.62</text>
<text x="333" y="2167">479.29</text>
<text x="254" y="2175">479.59</text>
<text x="250" y="2246">479.54</text>
<text x="365" y="2358">479.16</text>
<text x="518" y="2333">479.09</text>
<text x="668" y="2297">479.04</text>
<text x="212" y="2376">E</text>
<text x="235" y="2413">479.29</text>
<text x="403" y="2438">479.4</text>
<text x="605" y="2426">479.59</text>
<text x="647" y="2459">D</text>
<text x="739" y="2441">479.56</text>
<text x="167" y="2486">Ob. 8.</text><line class="ul" x1="167" y1="2490" x2="227" y2="2490"/>
<text x="868" y="1991">479.08</text>
<text x="812" y="2010">479.08</text>
<text x="955" y="2105">479.1</text>
<text x="819" y="2144">479.09</text>
<text x="944" y="2183">478.99</text>
<text x="788" y="2217">479.6</text>
<text x="808" y="2382">478.99</text>
<text x="1022" y="2346">479.08</text>
<text x="1099" y="2030">478.65</text>
<text x="1193" y="2119">478.78</text>
<text x="1341" y="2051">478.85</text>
<text x="1545" y="2072">478.91</text>
<text x="1469" y="2099">481.81</text>
<text x="1098" y="2154">478.83</text>
<text x="1426" y="2192">478.83</text>
<text x="1314" y="2210">129. Ob.</text><line class="ul" x1="1314" y1="2214" x2="1398" y2="2214"/>
<text x="1065" y="2292">478.68</text>
<text x="1509" y="2321">479.11</text>
<text x="1683" y="2031">L</text>
<text x="1691" y="2131">K</text>
<text x="1697" y="2166">479.12</text>
<text x="1329" y="2419">Ob. 129</text><line class="ul" x1="1329" y1="2423" x2="1408" y2="2423"/>
<text x="1096" y="2450">479.11</text>
<text x="1045" y="2508">H</text>
<text x="810" y="2576">242. Ob.</text><line class="ul" x1="810" y1="2580" x2="894" y2="2580"/>
<text x="982" y="2618">243. Ob.</text><line class="ul" x1="982" y1="2622" x2="1066" y2="2622"/>
<text x="222" y="2598">0</text>
<text x="561" y="2590">1m</text>
<text x="745" y="2610">I</text>
<text x="1281" y="2523" textLength="326" lengthAdjust="spacingAndGlyphs">calota cuptorului din lut cu pietriş</text>
<text x="1282" y="2568" textLength="406" lengthAdjust="spacingAndGlyphs">placa grosieră a cuptorului din lut nisipos</text>
<text x="1282" y="2612" textLength="440" lengthAdjust="spacingAndGlyphs">împărțirea focarului construit din pietriş şi lut</text>
</g>
<text x="1918" y="2628" style="font-size:42px">3.</text>

<g style="font-size:47px">
<text x="2" y="2808" textLength="137" lengthAdjust="spacingAndGlyphs">Fig. 3.</text>
<text x="0" y="2870" textLength="1432" lengthAdjust="spacingAndGlyphs">1-2. Ob. 93, 132. - bordei cu vatră construită din piatră şi pământ</text>
<text x="0" y="2924" textLength="1305" lengthAdjust="spacingAndGlyphs">3. Ob. 8, 129. - cuptor de ars ceramică cu groapa de atelier</text>
</g>
</svg>
</body></html>
